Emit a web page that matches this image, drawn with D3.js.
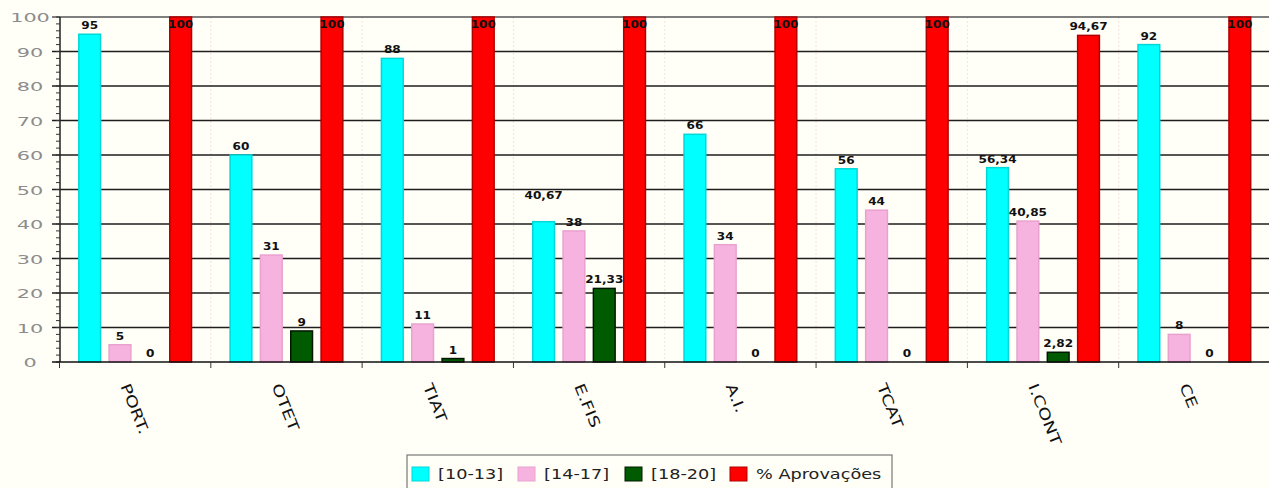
<!DOCTYPE html>
<html>
<head>
<meta charset="utf-8">
<script src="https://cdn.jsdelivr.net/npm/d3@7"></script>
<style>
  body { margin: 0; background: #fffef7; }
  svg { display: block; font-family: "DejaVu Sans", Verdana, sans-serif; }
</style>
</head>
<body>
<div id="chart"></div>
<script>
const categories = ['PORT.', 'OTET', 'TIAT', 'E.FIS', 'A.I.', 'TCAT', 'I.CONT', 'CE']
const seriesNames = ['[10-13]', '[14-17]', '[18-20]', '% Aprovações']
const v1013 = [95, 60, 88, 40.67, 66, 56, 56.34, 92]
const v1417 = [5, 31, 11, 38, 34, 44, 40.85, 8]
const v1820 = [0, 9, 1, 21.33, 0, 0, 2.82, 0]
const vAprov = [100, 100, 100, 100, 100, 100, 94.67, 100]
const yTicks = [0, 10, 20, 30, 40, 50, 60, 70, 80, 90, 100]

const colors = ['#00ffff', '#f7b3df', '#005a00', '#ff0000']
const strokes = ['#00d8d8', '#e9a2cf', '#001800', '#b00000']

const values = [v1013, v1417, v1820, vAprov]
const fmt = v => String(v).replace('.', ',')

const svgWidth = 1269, svgHeight = 488
const svg = d3.select('#chart').append('svg')
  .attr('width', svgWidth).attr('height', svgHeight)

svg.append('rect').attr('width', svgWidth).attr('height', svgHeight).attr('fill', '#fffef7')

const x0 = d3.scaleBand().domain(categories).range([59.5, 1270]).padding(0)
const x1 = d3.scaleBand().domain(d3.range(4)).range([0, x0.bandwidth()])
  .paddingInner(0.25).paddingOuter(0.62)
const y = d3.scaleLinear().domain([0, 100]).range([362, 17])

// faint vertical separators
svg.append('g').selectAll('line')
  .data(categories.slice(1))
  .join('line')
  .attr('x1', d => x0(d)).attr('x2', d => x0(d))
  .attr('y1', y(100)).attr('y2', y(0))
  .attr('stroke', '#f2e2e2').attr('stroke-dasharray', '2,2')

// horizontal grid
svg.append('g').selectAll('line')
  .data(yTicks.filter(t => t > 0 && t < 100))
  .join('line')
  .attr('x1', 52).attr('x2', svgWidth)
  .attr('y1', d => y(d)).attr('y2', d => y(d))
  .attr('stroke', '#1e1e1e').attr('stroke-width', 1.5)

// top border
svg.append('line').attr('x1', 52).attr('x2', svgWidth)
  .attr('y1', y(100)).attr('y2', y(100))
  .attr('stroke', '#555').attr('stroke-width', 1.5)

// bars
categories.forEach((c, ci) => {
  const g = svg.append('g').attr('transform', `translate(${x0(c)},0)`)
  values.forEach((arr, si) => {
    const v = arr[ci]
    if (v > 0) {
      g.append('rect')
        .attr('x', x1(si) + 0.5).attr('y', y(v))
        .attr('width', x1.bandwidth() - 1).attr('height', y(0) - y(v))
        .attr('fill', colors[si]).attr('stroke', strokes[si]).attr('stroke-width', 1.5)
    }
  })
  // value labels, pushed up when they crowd the next one
  const labels = values.map((arr, si) => {
    const v = arr[ci]
    const t = fmt(v)
    return { t, cx: x1(si) + x1.bandwidth() / 2, by: Math.max(y(v) - 5, 28), w: t.length * 7.2 }
  })
  for (let i = labels.length - 2; i >= 0; i--) {
    const a = labels[i], b = labels[i + 1]
    const hOverlap = (a.cx + a.w / 2 + 6) > (b.cx - b.w / 2)
    if (hOverlap && Math.abs(a.by - b.by) < 14) a.by = b.by - 27
  }
  labels.forEach(l => {
    g.append('text')
      .attr('transform', `translate(${l.cx},${l.by}) scale(1.15,1)`)
      .attr('text-anchor', 'middle')
      .attr('font-size', 10.5).attr('font-weight', 'bold').attr('fill', '#111')
      .text(l.t)
  })
})

// y axis
const yAxis = svg.append('g')
yAxis.append('line').attr('x1', 60).attr('x2', 60).attr('y1', y(100)).attr('y2', y(0))
  .attr('stroke', '#222').attr('stroke-width', 1.5)
yAxis.selectAll('.minor')
  .data(d3.range(0, 101, 2))
  .join('line')
  .attr('x1', 56).attr('x2', 60)
  .attr('y1', d => y(d)).attr('y2', d => y(d))
  .attr('stroke', '#333')
yAxis.selectAll('text')
  .data(yTicks)
  .join('text')
  .attr('transform', d => `translate(30,${y(d) + 5}) scale(1.6,1)`)
  .attr('text-anchor', 'middle')
  .attr('font-size', 13).attr('fill', '#8c8c8c')
  .text(d => d)

// x axis
svg.append('line').attr('x1', 52).attr('x2', svgWidth).attr('y1', y(0)).attr('y2', y(0))
  .attr('stroke', '#111').attr('stroke-width', 1.5)
svg.append('g').selectAll('line')
  .data(categories)
  .join('line')
  .attr('x1', d => x0(d)).attr('x2', d => x0(d))
  .attr('y1', y(0)).attr('y2', y(0) + 6)
  .attr('stroke', '#333')
svg.append('g').selectAll('text')
  .data(categories)
  .join('text')
  .attr('transform', d => `translate(${x0(d) + x0.bandwidth() / 2 - 15},386) rotate(68) scale(1.3,1)`)
  .attr('font-size', 14.5).attr('fill', '#111')
  .text(d => d)

// legend
const legend = svg.append('g')
legend.append('rect').attr('x', 407).attr('y', 455).attr('width', 485).attr('height', 40)
  .attr('fill', '#fffef7').attr('stroke', '#777').attr('stroke-width', 1.2)
const legendX = [412, 518, 625, 730]
seriesNames.forEach((name, i) => {
  legend.append('rect').attr('x', legendX[i]).attr('y', 467).attr('width', 17).attr('height', 14)
    .attr('fill', colors[i]).attr('stroke', strokes[i])
  legend.append('text')
    .attr('transform', `translate(${legendX[i] + 26},479) scale(1.22,1)`)
    .attr('font-size', 14.5).attr('fill', '#222')
    .text(name)
})
</script>
</body>
</html>
